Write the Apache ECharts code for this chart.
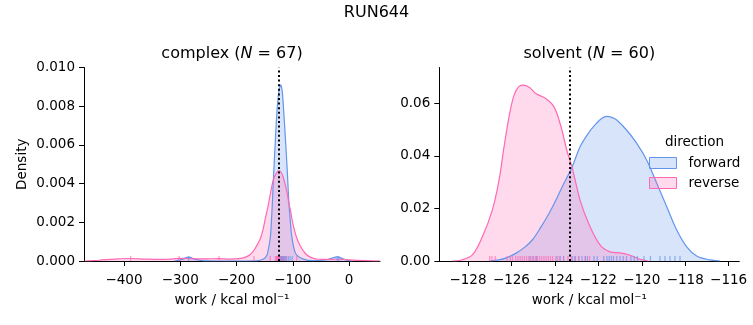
<!DOCTYPE html>
<html>
<head>
<meta charset="utf-8">
<script src="https://cdn.jsdelivr.net/npm/echarts@6/dist/echarts.min.js"></script>
<style>html,body{margin:0;padding:0;background:#fff}#c{width:753px;height:325px}</style>
</head>
<body>
<div id="c"></div>
<script>
// ---- data ----
const suptitle = 'RUN644';
const panelNames = ['complex', 'solvent'];
const panelN = [67, 60];
const seriesNames = ['forward', 'reverse'];
const meanLines = [-125, -123.3];

// complex panel KDE curves [work, density]
const complexForward = [
  [-310, 0], [-297, 0.00008], [-285, 0.0002], [-273, 0.00008], [-258, 0.00001], [-200, 0],
  [-165, 0.00001], [-152, 0.0001], [-146, 0.0003], [-143.4, 0.0006], [-140, 0.0012], [-137.5, 0.0023],
  [-135.5, 0.0035], [-133.3, 0.0049], [-131, 0.0062], [-128.6, 0.0075], [-126.5, 0.0083],
  [-124.5, 0.0088], [-122.8, 0.0090], [-121.4, 0.0091], [-120, 0.0090], [-118.5, 0.0087],
  [-116.7, 0.0080], [-114.5, 0.0070], [-112, 0.0058], [-109.5, 0.0045], [-107.3, 0.0032],
  [-104.5, 0.0021], [-101.9, 0.0013], [-97.5, 0.0006], [-93, 0.0003], [-81, 0.0001],
  [-65, 0.00002], [-45, 0.00004], [-33, 0.00012], [-21, 0.00021], [-10, 0.0001], [0, 0.00002], [6, 0]
];
const complexReverse = [
  [-470, 0], [-445, 0.00004], [-415, 0.0001], [-388, 0.00013], [-362, 0.0001], [-338, 0.00008],
  [-315, 0.0001], [-298, 0.00014], [-280, 0.00012], [-255, 0.00011], [-232, 0.00012],
  [-212, 0.0001], [-196, 0.00012], [-184, 0.0002], [-175, 0.00035], [-168, 0.0006],
  [-162, 0.0009], [-157, 0.0012], [-152.3, 0.0017], [-148, 0.0023], [-143.4, 0.0029],
  [-139, 0.0036], [-134.5, 0.0042], [-130, 0.0045], [-125.6, 0.00466], [-121, 0.0046],
  [-116.7, 0.0043], [-113, 0.0039], [-110, 0.0035], [-107, 0.0030], [-104, 0.0026],
  [-101, 0.0021], [-98, 0.0017], [-93, 0.0012], [-87, 0.0008], [-78, 0.0004], [-69, 0.0002],
  [-55, 0.00009], [-38, 0.00008], [-20, 0.0001], [0, 0.00006], [30, 0.00002], [55, 0]
];
// solvent panel KDE curves [work, density]
const solventForward = [
  [-127.0, 0], [-126.57, 0.0004], [-126.2, 0.0013], [-125.8, 0.0029], [-125.4, 0.0052],
  [-125.04, 0.0080], [-124.65, 0.0128], [-124.27, 0.0181], [-123.95, 0.0232], [-123.66, 0.0283],
  [-123.2, 0.0359], [-122.84, 0.0435], [-122.43, 0.0490], [-122.1, 0.0523], [-121.85, 0.0543],
  [-121.61, 0.0551], [-121.35, 0.0546], [-121.15, 0.0537], [-120.69, 0.0498], [-120.23, 0.0448],
  [-119.77, 0.0384], [-119.31, 0.0296], [-118.85, 0.0207], [-118.39, 0.0118], [-117.93, 0.0054],
  [-117.47, 0.0019], [-116.86, 0.0004], [-116.4, 0]
];
const solventReverse = [
  [-128.7, 0], [-128.3, 0.0004], [-127.8, 0.0023], [-127.34, 0.0092], [-126.88, 0.0194],
  [-126.57, 0.0308], [-126.34, 0.0435], [-126.11, 0.0549], [-125.88, 0.0632], [-125.65, 0.0665],
  [-125.42, 0.0670], [-125.15, 0.0660], [-124.88, 0.0638], [-124.42, 0.0619], [-124.04, 0.0587],
  [-123.73, 0.0515], [-123.43, 0.0416], [-123.2, 0.0355], [-122.84, 0.0232], [-122.43, 0.0140],
  [-121.92, 0.0061], [-121.46, 0.0035], [-121.0, 0.0031], [-120.54, 0.0022], [-120.08, 0.0006],
  [-119.7, 0]
];
// rug samples (work values)
const complexForwardRug = [-285, -128, -127, -126, -125.5, -125, -124, -123, -122, -121, -120,
  -119, -118, -117, -116, -115, -113, -111, -108, -105, -101, -21, -18];
const complexReverseRug = [-388, -302, -231, -169, -140, -131, -129, -128, -127, -126.5, -126,
  -125.5, -125, -124.5, -124, -123.5, -123, -122, -117, -112, -93];
const solventForwardRug = [-125.15, -125.0, -124.85, -123.9, -123.75, -123.6, -123.2, -123.05,
  -122.9, -122.75, -122.6, -122.5, -122.2, -122.05, -121.75, -121.6, -121.5, -121.4, -121.3,
  -121.15, -121.0, -120.85, -120.7, -120.5, -120.35, -120.2, -119.9, -119.6, -119.16, -118.93,
  -118.7, -118.47, -118.24];
const solventReverseRug = [-127.0, -126.9, -126.75, -126.2, -126.05, -125.95, -125.8, -125.7,
  -125.6, -125.5, -125.4, -125.3, -125.2, -125.1, -125.0, -124.9, -124.8, -124.7, -124.6,
  -124.5, -124.4, -124.3, -124.2, -124.1, -123.95, -123.8, -123.6, -123.4, -123.25, -123.1,
  -122.9, -122.6, -122.4];

const xTicks = [[-400, -300, -200, -100, 0], [-128, -126, -124, -122, -120, -118, -116]];
const yTicks = [[0, 0.002, 0.004, 0.006, 0.008, 0.010], [0, 0.02, 0.04, 0.06]];

// ---- styles ----
const FONT = 'DejaVu Sans';
const colors = { forward: '#6495ED', reverse: '#FF69B4' };
const fills = { forward: 'rgba(100,149,237,0.25)', reverse: 'rgba(255,105,180,0.25)' };
const xRanges = [[-471, 55], [-129.32, -115.51]];
const yMax = [0.010, 0.0737];
const yDec = [3, 2];
const grids = [
  { left: 84, top: 67.5, width: 296, height: 193.5 },
  { left: 439.3, top: 67.5, width: 300, height: 193.5 }
];
const fmtNum = (v, d) => {
  const s = d == null ? String(Math.abs(v)) : Math.abs(v).toFixed(d);
  return (v < 0 ? '\u2212' : '') + s;
};

const xAxis = [0, 1].map(i => ({
  type: 'value', gridIndex: i, min: xRanges[i][0], max: xRanges[i][1],
  name: 'work / kcal mol\u207B\u00B9', nameLocation: 'middle', nameGap: 32,
  nameTextStyle: { fontFamily: FONT, fontSize: 13.5, color: '#000' },
  axisLine: { show: true, onZero: false, lineStyle: { color: '#000', width: 1 } },
  axisTick: { show: true, length: 5, lineStyle: { color: '#000' }, customValues: xTicks[i] },
  axisLabel: { show: true, margin: 12, fontFamily: FONT, fontSize: 13.5, color: '#000',
    customValues: xTicks[i], formatter: v => fmtNum(v) },
  splitLine: { show: false }
}));
const yAxis = [0, 1].map(i => ({
  type: 'value', gridIndex: i, min: 0, max: yMax[i],
  name: i === 0 ? 'Density' : '', nameLocation: 'middle', nameGap: 55,
  nameTextStyle: { fontFamily: FONT, fontSize: 13.5, color: '#000' },
  axisLine: { show: true, onZero: false, lineStyle: { color: '#000', width: 1 } },
  axisTick: { show: true, length: 5, lineStyle: { color: '#000' }, customValues: yTicks[i] },
  axisLabel: { show: true, margin: 9, fontFamily: FONT, fontSize: 13.5, color: '#000',
    customValues: yTicks[i], formatter: v => fmtNum(v, yDec[i]) },
  splitLine: { show: false }
}));

const curves = [[complexForward, complexReverse], [solventForward, solventReverse]];
const rugs = [[complexForwardRug, complexReverseRug], [solventForwardRug, solventReverseRug]];
const series = [];
[0, 1].forEach(p => {
  seriesNames.forEach((name, k) => {
    series.push({
      type: 'line', name: name, xAxisIndex: p, yAxisIndex: p,
      data: curves[p][k], showSymbol: false, symbol: 'none', smooth: 0.35,
      lineStyle: { color: colors[name], width: 1.2 },
      itemStyle: { color: colors[name] },
      areaStyle: { color: fills[name], opacity: 1, origin: 'start' },
      silent: true, z: 2
    });
  });
  seriesNames.forEach((name, k) => {
    series.push({
      type: 'scatter', name: name + ' rug', xAxisIndex: p, yAxisIndex: p,
      data: rugs[p][k].map(v => [v, 0]), symbol: 'rect', symbolSize: [1.2, 5],
      symbolOffset: [0, -2.5], itemStyle: { color: colors[name], opacity: 0.7 },
      silent: true, z: 3, clip: false
    });
  });
  series.push({
    type: 'line', name: 'mean' + p, xAxisIndex: p, yAxisIndex: p, data: [], silent: true,
    markLine: {
      silent: true, symbol: ['none', 'none'], label: { show: false },
      lineStyle: { color: '#000', type: [2, 2.6], width: 2 },
      data: [{ xAxis: meanLines[p] }], animation: false
    }, z: 5
  });
});

const titleCenters = [232, 589.3];
const graphic = [
  { type: 'text', x: 376.5, y: 13, style: { text: suptitle, fontFamily: FONT, fontSize: 16,
      fill: '#000', align: 'center', verticalAlign: 'middle' } },
  ...[0, 1].map(p => ({
    type: 'text', x: titleCenters[p], y: 54,
    style: {
      text: panelNames[p] + ' ({i|N} = ' + panelN[p] + ')', fontFamily: FONT, fontSize: 16,
      fill: '#000', align: 'center', verticalAlign: 'middle',
      rich: { i: { fontStyle: 'italic', fontFamily: FONT, fontSize: 16, fill: '#000' } }
    }
  })),
  { type: 'text', x: 694.5, y: 142, style: { text: 'direction', fontFamily: FONT, fontSize: 13.5,
      fill: '#000', align: 'center', verticalAlign: 'middle' } }
];

const chart = echarts.init(document.getElementById('c'), null, { renderer: 'canvas' });
chart.setOption({
  animation: false,
  backgroundColor: '#fff',
  grid: grids,
  xAxis: xAxis,
  yAxis: yAxis,
  legend: {
    orient: 'vertical', left: 649, top: 156, padding: 0, itemWidth: 27, itemHeight: 11, itemGap: 6,
    selectedMode: false,
    textStyle: { fontFamily: FONT, fontSize: 13.5, color: '#000', lineHeight: 14, padding: [0, 0, 0, 7] },
    data: seriesNames.map(n => ({
      name: n, icon: 'rect',
      itemStyle: { color: fills[n], borderColor: colors[n], borderWidth: 1 }
    }))
  },
  graphic: graphic,
  series: series
});
</script>
</body>
</html>
